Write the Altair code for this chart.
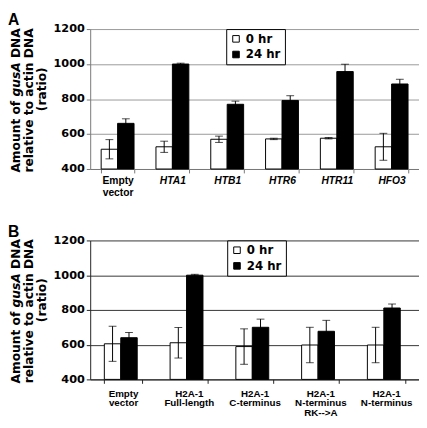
import altair as alt
import pandas as pd

SERIES = ["0 hr", "24 hr"]

A_CATS = ["Empty vector", "HTA1", "HTB1", "HTR6", "HTR11", "HFO3"]
A_0HR = [513, 527, 570, 572, 576, 527]
A_0HR_ERR = [55, 32, 18, 4, 4, 77]
A_24HR = [661, 1000, 770, 792, 957, 886]
A_24HR_ERR = [26, 5, 18, 27, 42, 27]

B_CATS = ["Empty vector", "H2A-1 Full-length", "H2A-1 C-terminus",
          "H2A-1 N-terminus RK-->A", "H2A-1 N-terminus"]
B_0HR = [605, 611, 589, 598, 598]
B_0HR_ERR = [101, 88, 102, 102, 102]
B_24HR = [640, 1000, 700, 677, 811]
B_24HR_ERR = [30, 5, 47, 63, 23]

Y_TICKS = [400, 600, 800, 1000, 1200]
TITLE_L1 = ["Amount of", "gusA", "DNA"]
TITLE_L2 = "relative to actin DNA"
TITLE_L3 = "(ratio)"

W = 336
TFONT = "DejaVu Sans"
XFONT = "Liberation Sans"


def build_df(cats, v0, e0, v24, e24):
    rows = []
    for c, a, ea, b, eb in zip(cats, v0, e0, v24, e24):
        rows.append({"cat": c, "series": SERIES[0], "value": a, "lo": a - ea, "hi": a + ea})
        rows.append({"cat": c, "series": SERIES[1], "value": b, "lo": b - eb, "hi": b + eb})
    return pd.DataFrame(rows)


def text_layer(txt, x, y, size, font, style="normal", align="center", angle=0, baseline="middle"):
    return alt.Chart(pd.DataFrame({"t": [txt]})).mark_text(
        text=txt, font=font, fontSize=size, fontWeight="bold", fontStyle=style,
        align=align, baseline=baseline, angle=angle, color="black"
    ).encode(x=alt.value(x), y=alt.value(y))


def panel(cats, v0, e0, v24, e24, letter, H, grid_color, axis_color, legend_x,
          xsize, xline, xpad, pad_inner, italic):
    df = build_df(cats, v0, e0, v24, e24)
    yscale = alt.Scale(domain=[400, 1200], nice=False, zero=False)
    yaxis = alt.Axis(values=Y_TICKS, format="d", grid=True, gridColor=grid_color, gridWidth=1,
                     domainColor=axis_color, tickColor=axis_color, tickSize=4,
                     labelFont=TFONT, labelFontSize=11.5, labelFontWeight="bold",
                     labelColor="black", labelPadding=2, labelOverlap=False, title=None)
    xscale = alt.Scale(paddingInner=pad_inner, paddingOuter=pad_inner / 2)
    xaxis = alt.Axis(
        labelAngle=0, labelExpr="split(datum.label, ' ')",
        labelFont=XFONT, labelFontSize=xsize, labelFontWeight="bold",
        labelLineHeight=xline, labelColor="black", labelLimit=300,
        labelOverlap=False, labelBound=False,
        labelFontStyle=({"condition": {"test": "datum.value == 'Empty vector'", "value": "normal"},
                         "value": "italic"} if italic else "normal"),
        tickBand="extent", tickSize=4, tickColor=axis_color,
        domainColor=axis_color, labelPadding=xpad, grid=False, title=None)
    xenc = alt.X("cat:N", sort=cats, title=None, scale=xscale, axis=xaxis)
    xoff = alt.XOffset("series:N", sort=SERIES, scale=alt.Scale(domain=SERIES))
    base = alt.Chart(df)
    bars = base.mark_bar(stroke="black", strokeWidth=1).encode(
        x=xenc, xOffset=xoff,
        y=alt.Y("value:Q", scale=yscale, title=None, axis=yaxis),
        y2=alt.datum(400),
        fill=alt.Fill("series:N", scale=alt.Scale(domain=SERIES, range=["white", "black"]),
                      legend=alt.Legend(orient="none", legendX=legend_x, legendY=0, title=None,
                                        strokeColor="black", fillColor="white", padding=4,
                                        symbolType="square", symbolSize=45,
                                        symbolStrokeColor="black", symbolStrokeWidth=1,
                                        labelFont=TFONT, labelFontSize=12,
                                        labelFontWeight="bold", labelColor="black",
                                        labelOffset=4, rowPadding=4)),
    )
    rules = base.mark_rule(color="black", strokeWidth=1).encode(
        x=xenc, xOffset=xoff,
        y=alt.Y("lo:Q", scale=yscale, title=None, axis=yaxis), y2="hi:Q")
    cap_hi = base.mark_tick(color="black", thickness=1, size=8, orient="horizontal").encode(
        x=xenc, xOffset=xoff, y=alt.Y("hi:Q", scale=yscale, title=None, axis=yaxis))
    cap_lo = base.mark_tick(color="black", thickness=1, size=8, orient="horizontal").encode(
        x=xenc, xOffset=xoff, y=alt.Y("lo:Q", scale=yscale, title=None, axis=yaxis))

    # y title, three rotated lines; middle word of first line in italic
    fs = 12.5
    c1 = 0.51 * H
    w_amount = 5.875 * fs
    w_space = 0.348 * fs
    w_gusa = 2.797 * fs
    total = w_amount + w_space + w_gusa + w_space + 2.441 * fs
    y_start = c1 + total / 2
    y_end_amount = y_start - w_amount
    y_gusa = y_end_amount - w_space
    y_dna = y_gusa - w_gusa - w_space
    x1, x2, x3 = -75.5, -62.5, -49.5
    t1 = text_layer(TITLE_L1[0], x1, y_end_amount, fs, TFONT, align="right", angle=270)
    t2 = text_layer(TITLE_L1[1], x1, y_gusa, fs, TFONT, style="italic", align="left", angle=270)
    t3 = text_layer(TITLE_L1[2], x1, y_dna, fs, TFONT, align="left", angle=270)
    t4 = text_layer(TITLE_L2, x2, 0.51 * H, fs, TFONT, angle=270)
    t5 = text_layer(TITLE_L3, x3, 0.43 * H, fs, TFONT, angle=270)
    lab = text_layer(letter, -84, -17, 16, XFONT, align="left", baseline="top")

    return alt.layer(bars, rules, cap_hi, cap_lo, t1, t2, t3, t4, t5, lab).properties(
        width=W, height=H)


pA = panel(A_CATS, A_0HR, A_0HR_ERR, A_24HR, A_24HR_ERR, "A", 143, "#999999", "#777777",
           139, 10.5, 12, 3, 0.4, True)
pB = panel(B_CATS, B_0HR, B_0HR_ERR, B_24HR, B_24HR_ERR, "B", 142, "#333333", "#222222",
           140, 10, 10, 5, 0.43, False)

chart = alt.vconcat(pA, pB, spacing=26).resolve_scale(
    x="independent", y="independent", fill="independent"
).properties(padding=0).configure_view(stroke=None)

chart.save("out.html", embed_options={"renderer": "svg", "actions": False})
